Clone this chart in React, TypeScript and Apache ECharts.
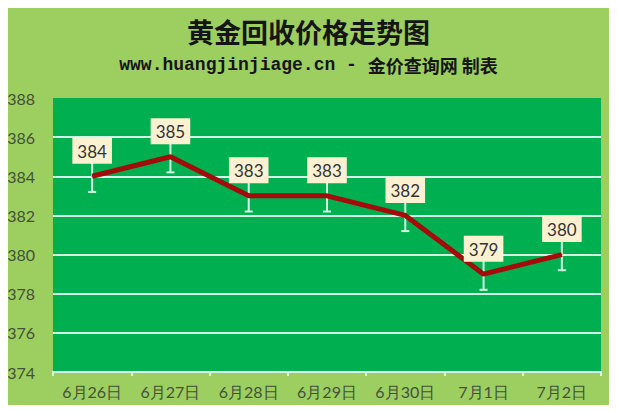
import React, { useEffect, useRef } from "react";
import * as echarts from "echarts";

const categories = ["6月26日", "6月27日", "6月28日", "6月29日", "6月30日", "7月1日", "7月2日"];
const prices = [384, 385, 383, 383, 382, 379, 380];
const errors = [0.8, 0.8, 0.8, 0.8, 0.8, 0.8, 0.8];

const BG = "#9ccf60";
const PLOT = "#00b050";
const GRID_LINE = "#d2f7e4";
const LINE_RED = "#a40b0b";
const LABEL_BG = "#fdf1d2";
const AXIS_TEXT = "#44503a";

const App: React.FC = () => {
    const ref = useRef<HTMLDivElement | null>(null);

    useEffect(() => {
        if (!ref.current) return;
        const inst = echarts.init(ref.current, null, { renderer: "svg" });

        inst.setOption({
            animation: false,
            backgroundColor: BG,
            title: [
                {
                    text: "黄金回收价格走势图",
                    left: "center",
                    top: 13,
                    textStyle: {
                        fontFamily: "Noto Sans CJK SC",
                        fontSize: 27,
                        fontWeight: "bold",
                        color: "#151515",
                    },
                },
                {
                    text: "{a|www.huangjinjiage.cn - }{b|金价查询网 制表}",
                    left: "center",
                    top: 51,
                    textStyle: {
                        rich: {
                            a: {
                                fontFamily: "Liberation Mono",
                                fontSize: 18,
                                fontWeight: "bold",
                                color: "#151515",
                            },
                            b: {
                                fontFamily: "Noto Sans CJK SC",
                                fontSize: 18,
                                fontWeight: "bold",
                                color: "#151515",
                            },
                        },
                    },
                },
            ],
            grid: {
                left: 53,
                right: 16,
                top: 98,
                bottom: 41,
                show: true,
                backgroundColor: PLOT,
                borderWidth: 0,
            },
            xAxis: {
                type: "category",
                data: categories,
                boundaryGap: true,
                axisLine: { show: true, lineStyle: { color: GRID_LINE, width: 2 } },
                axisTick: { show: true, interval: 0, length: 4, lineStyle: { color: GRID_LINE, width: 2 } },
                axisLabel: {
                    interval: 0,
                    color: AXIS_TEXT,
                    fontFamily: "Lato",
                    fontSize: 16,
                    margin: 11,
                },
            },
            yAxis: {
                type: "value",
                min: 374,
                max: 388,
                interval: 2,
                axisLine: { show: false },
                axisTick: { show: false },
                axisLabel: {
                    color: AXIS_TEXT,
                    fontFamily: "Lato",
                    fontSize: 16,
                    margin: 18,
                },
                splitLine: {
                    show: true,
                    lineStyle: {
                        color: [GRID_LINE, GRID_LINE, GRID_LINE, GRID_LINE, GRID_LINE, GRID_LINE, GRID_LINE, "transparent"],
                        width: 2,
                    },
                },
            },
            series: [
                {
                    type: "custom",
                    z: 1,
                    data: prices.map((p, i) => [i, p, errors[i]]),
                    renderItem: (_params: any, api: any) => {
                        const x = api.value(0);
                        const y = api.value(1);
                        const e = api.value(2);
                        const top = api.coord([x, y + e]);
                        const bot = api.coord([x, y - e]);
                        const style = { stroke: GRID_LINE, lineWidth: 2 };
                        return {
                            type: "group",
                            children: [
                                { type: "line", shape: { x1: top[0], y1: top[1], x2: bot[0], y2: bot[1] }, style },
                                { type: "line", shape: { x1: top[0] - 4, y1: top[1], x2: top[0] + 4, y2: top[1] }, style },
                                { type: "line", shape: { x1: bot[0] - 4, y1: bot[1], x2: bot[0] + 4, y2: bot[1] }, style },
                            ],
                        };
                    },
                },
                {
                    type: "line",
                    z: 3,
                    data: prices,
                    symbol: "circle",
                    symbolSize: 1,
                    showSymbol: true,
                    itemStyle: { color: LINE_RED },
                    lineStyle: { color: LINE_RED, width: 5 },
                    label: {
                        show: true,
                        position: "top",
                        distance: 12,
                        backgroundColor: LABEL_BG,
                        padding: [5, 5, 4, 5],
                        color: "#333333",
                        fontFamily: "Lato",
                        fontSize: 17,
                    },
                },
            ],
        });

        return () => inst.dispose();
    }, []);

    return <div ref={ref} style={{ width: 617, height: 413, margin: -8 }} />;
};

export default App;
